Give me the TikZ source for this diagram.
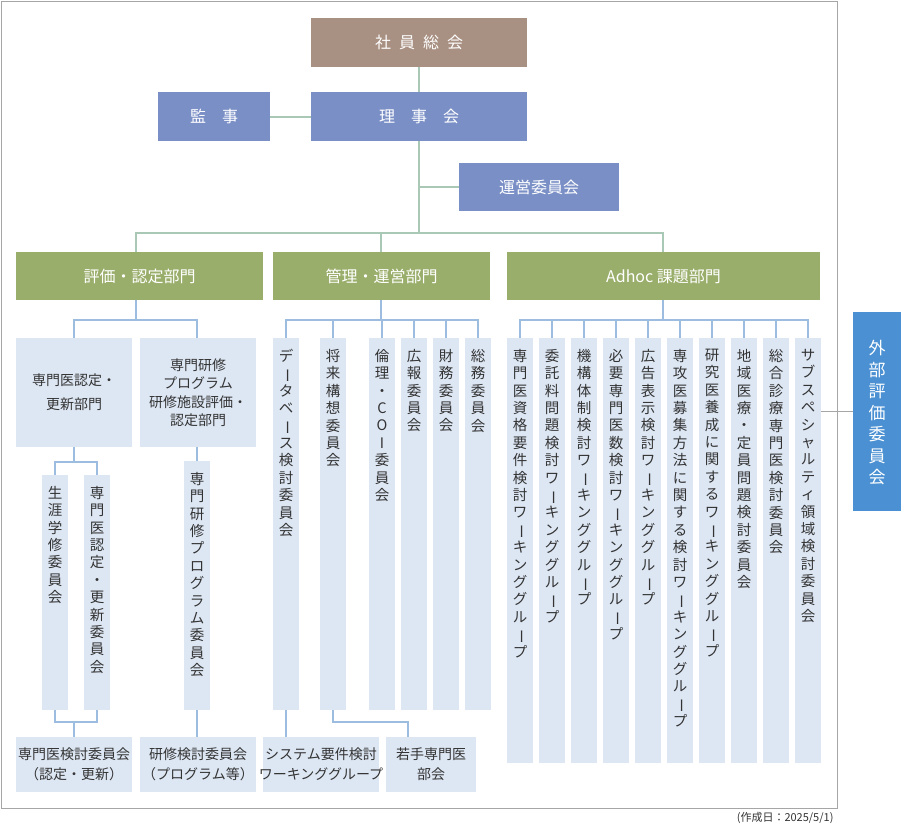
\documentclass[tikz,border=0pt]{standalone}
\usepackage{fontspec}
\setmainfont{Noto Sans CJK JP}
\usepackage{graphicx}
\makeatletter
\def\vt@bar{ー}
\newcommand\vtext[2][17.4pt]{\vbox{\baselineskip=#1\@tfor\vt@c:=#2\do{\hbox to 16pt{\hss\ifx\vt@c\vt@bar\smash{\rotatebox[origin=c]{-90}{ー}}\else\vt@c\fi\hss}}}}
\makeatother
\definecolor{brownbox}{HTML}{A89082}
\definecolor{purpbox}{HTML}{7A8FC6}
\definecolor{greenbox}{HTML}{9AAE6B}
\definecolor{lightbox}{HTML}{DDE7F4}
\definecolor{extbox}{HTML}{4A90D2}
\definecolor{gline}{HTML}{A9C8B5}
\definecolor{bline}{HTML}{9CBDE0}
\definecolor{txt}{HTML}{333333}
\begin{document}
\begin{tikzpicture}[x=1pt,y=-1pt,
  topbox/.style={font=\fontsize{16}{18}\selectfont,text=white},
  lt/.style={fill=lightbox},
  vt/.style={anchor=north,inner sep=0,text=txt,font=\fontsize{14.5}{17}\selectfont},
  ht/.style={align=center,text=txt,font=\fontsize{14}{20}\selectfont,inner sep=0},
  gl/.style={draw=gline,line width=1.3pt},
  bl/.style={draw=bline,line width=1.3pt}]
\useasboundingbox (0,0) rectangle (901,827);
\draw[draw=gray!70,line width=1pt] (1,1) rectangle (837,808);
\node[anchor=east,font=\fontsize{11}{12}\selectfont,text=txt] (date) at (837,818) {(作成日：2025/5/1)};
% top
\fill[brownbox] (311,18) rectangle (527,67);
\node[topbox] (sou) at (419,42.5) {社\hspace{0.5em}員\hspace{0.5em}総\hspace{0.5em}会};
\fill[purpbox] (158,92) rectangle (270,141);
\node[topbox] (kan) at (214,116.5) {監\hspace{1em}事};
\fill[purpbox] (311,92) rectangle (527,141);
\node[topbox] (rij) at (419,116.5) {理\hspace{1em}事\hspace{1em}会};
\fill[purpbox] (459,163) rectangle (619,211);
\node[topbox] (un) at (539,187) {運営委員会};
\draw[gl] (419,67) -- (419,92);
\draw[gl] (270,117) -- (311,117);
\draw[gl] (419,141) -- (419,233);
\draw[gl] (419,187) -- (459,187);
\draw[gl] (136,252) -- (136,233) -- (663,233) -- (663,252);
\draw[gl] (381,233) -- (381,252);
\fill[greenbox] (16,252) rectangle (263,300);
\node[topbox] (g1) at (139.5,276) {評価・認定部門};
\fill[greenbox] (273,252) rectangle (490,300);
\node[topbox] (g2) at (381.5,276) {管理・運営部門};
\fill[greenbox] (507,252) rectangle (820,300);
\node[topbox] (g3) at (663.5,276) {Adhoc 課題部門};
% external
\fill[extbox] (853,312) rectangle (901,511);
\node[anchor=north,inner sep=0,text=white,font=\fontsize{17}{20}\selectfont] (ext) at (877,340) {\vtext[21.5pt]{外部評価委員会}};
\draw[draw=gray!70,line width=1pt] (821,411) -- (853,411);
% section 1
\draw[bl] (136,300) -- (136,320);
\draw[bl] (74,338) -- (74,320) -- (197,320) -- (197,338);
\fill[lt] (16,338) rectangle (132,447);
\node[ht,font=\fontsize{14}{24}\selectfont] (s1) at (74,392.5) {専門医認定・\\更新部門};
\fill[lt] (140,338) rectangle (256,447);
\node[ht,font=\fontsize{14}{18.5}\selectfont] (s2) at (198,392.5) {専門研修\\プログラム\\研修施設評価・\\認定部門};
\draw[bl] (74,447) -- (74,462) -- (55,462) -- (55,475);
\draw[bl] (74,462) -- (97,462) -- (97,475);
\fill[lt] (42,475) rectangle (68,710);
\node[vt] (a1) at (55,486) {\vtext{生涯学修委員会}};
\fill[lt] (84,475) rectangle (110,710);
\node[vt] (a2) at (97,486) {\vtext{専門医認定・更新委員会}};
\draw[bl] (55,710) -- (55,722) -- (97,722) -- (97,710);
\draw[bl] (74,722) -- (74,737);
\fill[lt] (16,737) rectangle (132,792);
\node[ht] (b1) at (74,764.5) {専門医検討委員会\\（認定・更新）};
\draw[bl] (197,447) -- (197,461);
\fill[lt] (184,461) rectangle (210,710);
\node[vt] (a3) at (197,472) {\vtext{専門研修プログラム委員会}};
\draw[bl] (197,710) -- (197,737);
\fill[lt] (140,737) rectangle (256,792);
\node[ht] (b2) at (198,764.5) {研修検討委員会\\（プログラム等）};
% section 2
\draw[bl] (381,300) -- (381,320);
\draw[bl] (286,338) -- (286,320) -- (478,320) -- (478,338);
\foreach \c/\t in {286/データベース検討委員会,333/将来構想委員会,382/倫理・COI委員会,414/広報委員会,446/財務委員会,478/総務委員会}{
  \draw[bl] (\c,320) -- (\c,338);
  \fill[lt] (\c-13,338) rectangle (\c+13,710);
  \node[vt] at (\c,349) {\expandafter\vtext\expandafter{\t}};
}
\draw[bl] (286,710) -- (286,737);
\fill[lt] (263,737) rectangle (379,792);
\node[ht] (b3) at (321,764.5) {システム要件検討\\ワーキンググループ};
\draw[bl] (333,710) -- (333,722) -- (408,722) -- (408,737);
\fill[lt] (386,737) rectangle (476,792);
\node[ht] (b4) at (431,764.5) {若手専門医\\部会};
% section 3
\draw[bl] (663,300) -- (663,320);
\draw[bl] (520,338) -- (520,320) -- (808,320) -- (808,338);
\foreach \c/\t in {520/専門医資格要件検討ワーキンググループ,552/委託料問題検討ワーキンググループ,584/機構体制検討ワーキンググループ,616/必要専門医数検討ワーキンググループ,648/広告表示検討ワーキンググループ,680/専攻医募集方法に関する検討ワーキンググループ,712/研究医養成に関するワーキンググループ,744/地域医療・定員問題検討委員会,776/総合診療専門医検討委員会,808/サブスペシャルティ領域検討委員会}{
  \draw[bl] (\c,320) -- (\c,338);
  \fill[lt] (\c-13,338) rectangle (\c+13,763);
  \node[vt] at (\c,349) {\expandafter\vtext\expandafter{\t}};
}
\end{tikzpicture}
\end{document}
